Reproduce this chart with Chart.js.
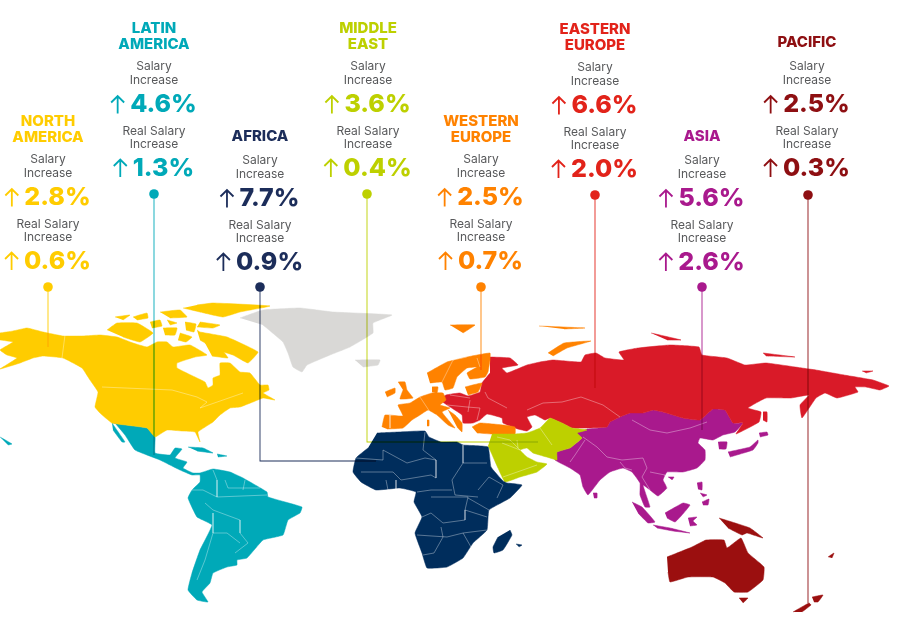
<!DOCTYPE html>
<html>
<head>
<meta charset="utf-8">
<title>Salary increase by region</title>
<script src="https://cdn.jsdelivr.net/npm/chart.js@4/dist/chart.umd.min.js"></script>
<style>
  html, body { margin: 0; padding: 0; background: #fff; }
  canvas { display: block; }
</style>
</head>
<body>
<canvas id="myChart" width="897" height="629"></canvas>
<script>
const regionNames = [
    ['NORTH', 'AMERICA'], ['LATIN', 'AMERICA'], ['AFRICA'], ['MIDDLE', 'EAST'],
    ['WESTERN', 'EUROPE'], ['EASTERN', 'EUROPE'], ['ASIA'], ['PACIFIC']
];
const salaryIncrease = [2.8, 4.6, 7.7, 3.6, 2.5, 6.6, 5.6, 2.5];
const realSalaryIncrease = [0.6, 1.3, 0.9, 0.4, 0.7, 2.0, 2.6, 0.3];
const regionColors = ['#FFCC00', '#00A9B8', '#1C2D5A', '#BDD000', '#FF8200', '#E2231A', '#A9198D', '#8E0F12'];

// each label block: centre x, then y of the first salary line
const blockX = [48, 154, 260, 368, 481, 595, 702, 807];
const blockY = [159, 66, 160, 66, 159, 67, 160, 66];

// leader lines, from the dot down to the map
const leaders = [
    [[48, 287], [48, 347]],
    [[154, 194], [154, 455]],
    [[260, 287], [260, 461], [376, 461]],
    [[367, 194], [367, 442], [538, 442]],
    [[481, 287], [481, 370]],
    [[595, 195], [595, 388]],
    [[702, 287], [702, 430]],
    [[808, 195], [808, 603]]
];

const northAmerica = [
    [[0,333],[13,331],[27,328],[43,332],[63,336],[83,336],[100,335],[117,337],[133,343],[147,347],[157,342],[167,342],[173,347],[190,345],[207,355],[195,357],[177,363],[177,368],[197,378],[205,382],[208,388],[213,385],[213,378],[220,375],[220,363],[230,363],[240,372],[250,373],[260,385],[268,385],[269,390],[263,393],[275,400],[263,398],[253,402],[240,407],[230,408],[220,415],[213,422],[198,432],[200,442],[195,432],[182,431],[167,430],[155,437],[147,428],[133,426],[112,423],[100,413],[95,407],[98,392],[90,380],[82,368],[63,358],[43,356],[33,358],[20,363],[0,369],[17,358],[7,355],[0,350],[13,342],[0,340]],
    [[197,305],[213,303],[270,306],[240,312],[223,317],[200,312],[183,308]],
    [[197,330],[200,332],[227,337],[258,352],[248,363],[233,355],[217,350],[200,340]],
    [[160,312],[180,310],[187,317],[170,318]],
    [[200,322],[220,325],[213,328],[197,327]],
    [[115,317],[130,315],[123,320]],
    [[107,330],[117,323],[137,323],[153,333],[140,342],[123,337]],
    [[163,328],[177,328],[175,335],[165,335]],
    [[167,320],[177,323],[170,325]],
    [[133,317],[147,313],[148,318],[137,320]],
    [[180,333],[192,337],[186,342],[178,340]],
    [[185,322],[196,324],[194,332],[186,330]],
    [[150,322],[160,320],[162,326],[152,328]],
    [[205,343],[222,350],[228,358],[212,356]]
];
const greenland = [
    [[240,318],[263,310],[300,308],[333,312],[392,315],[373,323],[373,333],[350,347],[330,355],[307,365],[302,372],[293,367],[288,353],[283,342],[263,325]],
    [[355,360],[380,360],[378,365],[363,367]]
];
const latinAmerica = [
    [[112,423],[133,426],[147,428],[155,437],[155,453],[170,455],[175,448],[182,449],[175,458],[187,462],[183,468],[193,473],[200,473],[213,469],[230,472],[243,478],[267,492],[268,497],[302,507],[300,513],[288,520],[283,535],[263,540],[247,558],[237,560],[237,565],[227,567],[213,573],[210,583],[202,592],[208,602],[197,600],[188,590],[192,573],[200,550],[212,525],[197,517],[188,498],[192,490],[200,482],[200,475],[192,475],[180,470],[160,460],[135,450],[125,435],[115,423]],
    [[112,423],[125,442],[122,442],[113,430]],
    [[188,447],[203,448],[213,453],[197,451]],
    [[217,454],[227,456],[218,457]],
    [[0,437],[12,444],[8,445]]
];
const africa = [
    [[377,433],[399,432],[425,431],[429,437],[441,442],[457,442],[463,445],[488,447],[491,467],[503,481],[507,483],[522,485],[510,498],[489,510],[487,530],[473,543],[463,558],[447,567],[427,568],[422,553],[415,533],[422,517],[414,502],[416,492],[400,488],[376,490],[361,482],[353,472],[356,458],[368,448]],
    [[510,530],[512,535],[503,550],[494,553],[493,547],[498,537]],
    [[516,544],[522,545],[519,547]]
];
const middleEast = [
    [[492,434],[515,434],[527,433],[540,428],[545,423],[550,418],[562,423],[572,428],[587,430],[577,433],[582,438],[570,448],[557,452],[557,460],[550,458],[533,453],[527,448],[520,450],[527,457],[537,462],[547,464],[537,472],[520,477],[505,482],[498,468],[490,450],[488,446]]
];
const westernEurope = [
    [[382,427],[385,415],[403,416],[398,405],[410,403],[420,397],[432,393],[443,393],[446,400],[440,405],[450,408],[442,412],[455,428],[448,425],[437,415],[428,410],[420,415],[412,420],[403,428],[387,429]],
    [[448,410],[455,415],[462,423],[462,432],[457,427]],
    [[472,427],[480,423],[503,425],[515,427],[515,434],[492,434],[477,433]],
    [[398,382],[405,382],[407,390],[413,398],[400,399],[403,390]],
    [[385,392],[395,388],[395,393],[387,397]],
    [[427,373],[447,362],[467,357],[490,353],[490,360],[488,372],[485,377],[470,379],[467,373],[477,367],[467,368],[457,377],[453,388],[445,390],[442,382],[430,383]],
    [[465,387],[482,383],[478,392],[468,395]],
    [[432,387],[438,387],[437,393],[432,392]],
    [[427,420],[429,420],[429,426],[427,426]],
    [[450,325],[475,325],[463,333]],
    [[539,326],[585,328],[564,329]],
    [[548,353],[564,343],[591,341],[567,348],[553,356]]
];
const easternEurope = [
    [[490,357],[510,358],[518,365],[502,368],[507,373],[527,365],[540,362],[553,360],[581,362],[585,355],[596,353],[605,358],[624,360],[619,352],[638,348],[670,345],[699,347],[702,355],[727,358],[745,365],[766,363],[802,368],[816,370],[844,375],[873,380],[889,386],[880,390],[866,387],[855,387],[858,392],[837,398],[825,393],[816,398],[802,418],[800,405],[809,395],[791,398],[766,398],[748,408],[761,412],[759,422],[736,434],[743,423],[733,423],[725,410],[713,409],[700,420],[683,418],[663,412],[653,410],[643,413],[630,413],[620,417],[610,422],[607,427],[587,428],[572,428],[562,423],[550,418],[545,420],[535,415],[527,417],[532,427],[527,431],[518,429],[503,423],[502,418],[487,414],[480,420],[473,423],[463,423],[462,415],[447,405],[440,400],[446,395],[460,393],[468,396],[480,392],[482,383],[490,373]],
    [[651,333],[681,340],[667,340]],
    [[763,353],[795,357],[766,356]],
    [[862,371],[873,371],[866,373]],
    [[763,412],[767,412],[767,422],[763,420]]
];
const asia = [
    [[587,429],[607,427],[610,422],[620,417],[630,413],[643,413],[653,410],[663,412],[683,418],[700,420],[713,409],[725,410],[733,423],[743,423],[735,432],[723,435],[713,440],[700,438],[698,443],[705,450],[705,460],[697,468],[683,472],[667,472],[663,480],[667,488],[658,496],[650,490],[643,485],[650,507],[645,507],[640,495],[640,483],[632,472],[623,468],[610,472],[600,480],[588,495],[583,487],[580,475],[570,468],[555,460],[557,452],[570,448],[582,438],[575,433]],
    [[718,442],[727,442],[726,449],[719,449]],
    [[728,452],[750,447],[758,440],[758,443],[753,450],[730,457]],
    [[759,433],[767,432],[768,435],[760,437]],
    [[593,493],[597,493],[597,498],[594,498]],
    [[632,502],[642,507],[655,522],[648,523],[638,513]],
    [[653,525],[670,528],[690,533],[673,531],[657,528]],
    [[665,513],[683,503],[690,505],[682,515],[675,522],[667,518]],
    [[688,518],[697,517],[693,521],[697,525],[690,526]],
    [[697,483],[702,482],[702,490],[698,489]],
    [[702,502],[709,499],[708,505],[703,505]],
    [[700,493],[707,495],[703,497]],
    [[668,477],[674,477],[672,480]]
];
const pacific = [
    [[667,557],[692,547],[706,540],[724,540],[727,548],[741,538],[748,553],[764,567],[763,580],[748,592],[734,592],[725,583],[713,577],[688,577],[670,582],[668,572]],
    [[739,598],[748,598],[743,603]],
    [[719,518],[732,522],[750,528],[763,538],[747,533],[742,535],[728,528]],
    [[793,612],[809,603],[811,605],[802,612]],
    [[812,597],[823,595],[818,602],[814,602]],
    [[828,557],[834,553],[832,558]]
];

// thin light country borders
const borders = [
    [[65,335],[62,358]], [[102,387],[172,390],[197,397],[207,402],[200,408],[243,393]],
    [[213,470],[217,480],[217,497]], [[190,490],[203,490],[217,497]], [[217,497],[267,495]],
    [[205,503],[213,510],[240,520],[240,533],[248,543],[235,553]], [[213,513],[213,533],[227,533],[240,543]],
    [[213,533],[205,560],[197,580]], [[245,480],[243,490]], [[225,480],[228,488],[260,488]],
    [[383,450],[407,463],[425,458],[436,460],[436,478],[431,475]], [[463,445],[463,463],[487,463]],
    [[463,463],[452,480],[455,495],[478,497]], [[417,492],[431,490],[452,490]],
    [[431,497],[468,497],[465,510],[465,520],[443,523],[431,513],[422,517]],
    [[417,535],[447,537],[463,533],[487,530]], [[441,527],[443,537],[434,553],[423,555]],
    [[463,533],[471,547]], [[361,472],[393,472],[401,480],[431,475]], [[356,458],[383,460],[383,450]],
    [[425,432],[423,450],[436,460]], [[386,480],[388,490]], [[396,480],[396,489]],
    [[478,490],[489,477],[503,485],[497,498]], [[468,498],[489,510]], [[465,510],[487,517]],
    [[527,410],[543,403],[562,402],[581,397],[603,405],[620,417]],
    [[632,420],[650,430],[667,433],[690,428],[707,422]],
    [[583,437],[597,447],[607,457],[622,460],[643,458]], [[585,440],[575,455],[570,462]],
    [[643,458],[647,468],[642,477],[650,490]], [[650,472],[665,475],[667,488]], [[620,462],[625,468],[632,470]],
    [[497,437],[510,440],[520,450]], [[517,440],[518,448]], [[540,428],[552,445]],
    [[503,477],[537,465]], [[502,443],[520,450]],
    [[390,415],[390,428]], [[450,395],[470,398]], [[470,400],[468,412]], [[485,392],[488,398],[507,408]],
    [[447,405],[467,407],[480,408],[477,420]], [[420,397],[430,412]],
    [[442,382],[453,360],[467,357]], [[477,358],[480,367]]
];

const toPoints = (shape) => shape.map(([x, y]) => ({ x, y }));

const datasets = [];
// index 0 is painted last, so dots and leaders go first
leaders.forEach((line, i) => {
    datasets.push({
        data: toPoints(line.slice(0, 1)),
        pointRadius: 4.8,
        pointBackgroundColor: regionColors[i],
        pointBorderWidth: 0
    });
});
leaders.forEach((line, i) => {
    datasets.push({
        data: toPoints(line),
        showLine: true,
        blend: true,
        borderColor: regionColors[i],
        borderWidth: 0.9,
        pointRadius: 0
    });
});
borders.forEach((line) => {
    datasets.push({
        data: toPoints(line),
        showLine: true,
        borderColor: 'rgba(255, 255, 255, 0.5)',
        borderWidth: 0.7,
        pointRadius: 0
    });
});
[
    [northAmerica, '#FFCC00'], [greenland, '#D9D8D6'], [latinAmerica, '#00A9B8'],
    [africa, '#002D5C'], [middleEast, '#BDD000'], [westernEurope, '#FF8200'],
    [easternEurope, '#D91A28'], [asia, '#A9198D'], [pacific, '#9B0F0F']
].forEach(([shapes, color]) => {
    shapes.forEach((shape) => {
        datasets.push({
            data: toPoints(shape),
            showLine: true,
            fill: 'shape',
            tension: 0.1,
            backgroundColor: color,
            borderColor: color,
            borderWidth: 0.5,
            pointRadius: 0
        });
    });
});

const blendPlugin = {
    id: 'blend',
    beforeDatasetDraw(chart, args) {
        if (chart.data.datasets[args.index].blend) {
            chart.ctx.globalCompositeOperation = 'multiply';
        }
    },
    afterDatasetDraw(chart) {
        chart.ctx.globalCompositeOperation = 'source-over';
    }
};

function drawPercent(ctx, value, cx, cy, color) {
    const text = value.toFixed(1) + '%';
    ctx.font = '800 25px Inter';
    ctx.textAlign = 'left';
    ctx.fillStyle = color;
    const width = ctx.measureText(text).width;
    const left = cx - (width + 19) / 2;
    ctx.fillText(text, left + 19, cy);
    // up arrow
    const ax = left + 6.5;
    ctx.strokeStyle = color;
    ctx.lineWidth = 1.8;
    ctx.beginPath();
    ctx.moveTo(ax, cy + 9);
    ctx.lineTo(ax, cy - 8.5);
    ctx.moveTo(ax - 6.5, cy - 2);
    ctx.lineTo(ax, cy - 8.5);
    ctx.lineTo(ax + 6.5, cy - 2);
    ctx.stroke();
}

const labelPlugin = {
    id: 'labels',
    afterDatasetsDraw(chart) {
        const { ctx, scales } = chart;
        ctx.save();
        ctx.textBaseline = 'middle';
        regionNames.forEach((name, i) => {
            const cx = scales.x.getPixelForValue(blockX[i]);
            const y = (v) => scales.y.getPixelForValue(blockY[i] + v);
            const color = regionColors[i];

            ctx.textAlign = 'center';
            ctx.font = '800 15px Inter';
            ctx.fillStyle = color;
            const top = name.length === 1 ? -23.5 : -38;
            name.forEach((line, n) => {
                ctx.fillText(line, cx, y(top + n * 16));
            });

            ctx.font = '400 12px Inter';
            ctx.fillStyle = '#58595B';
            ctx.fillText('Salary', cx, y(0.5));
            ctx.fillText('Increase', cx, y(14));
            ctx.fillText('Real Salary', cx, y(65));
            ctx.fillText('Increase', cx, y(78.5));

            drawPercent(ctx, salaryIncrease[i], cx, y(38.5), color);
            drawPercent(ctx, realSalaryIncrease[i], cx, y(102), color);
        });
        ctx.restore();
    }
};

const ctx = document.getElementById('myChart').getContext('2d');
const myChart = new Chart(ctx, {
    type: 'scatter',
    data: { datasets: datasets },
    plugins: [blendPlugin, labelPlugin],
    options: {
        responsive: false,
        animation: false,
        events: [],
        layout: { padding: 0, autoPadding: false },
        plugins: {
            legend: { display: false },
            tooltip: { enabled: false },
            filler: { propagate: false }
        },
        scales: {
            x: { type: 'linear', min: 0, max: 897, display: false },
            y: { type: 'linear', min: 0, max: 629, reverse: true, display: false }
        }
    }
});
</script>
</body>
</html>
